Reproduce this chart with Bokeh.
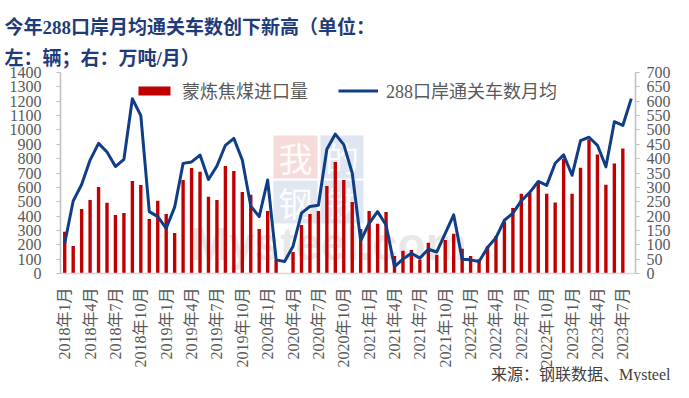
import math
from bokeh.plotting import figure
from bokeh.models import (Range1d, LinearAxis, FixedTicker, Legend, LegendItem,
                          Title, ColumnDataSource, BoxAnnotation, Label)
from bokeh.embed import file_html
from bokeh.resources import INLINE

NAN = float("nan")

# month labels 2018-01 .. 2023-08
months = [f"{y}年{m}月" for y in range(2018, 2024) for m in range(1, 13)][:68]

# Mongolian coking coal imports (万吨/月, right axis)
coal_import = [
    145, 96, 225, 256, 301, 246, 204, 211, 322, 308, 190, 253,
    207, 141, 326, 367, 354, 267, 256, 374, 357, 284, 274, 155,
    218, 48, NAN, 75, 169, 207, 218, 305, 388, 326, 249, 155,
    218, 173, 214, 61, 79, 82, 48, 107, 65, 117, 138, 86,
    61, 49, 95, 131, 180, 228, 278, 280, 313, 278, 247, 400,
    278, 368, 467, 414, 309, 383, 435, NAN,
]

# 288 port average monthly cleared vehicles (辆, left axis)
vehicles = [
    211, 505, 620, 790, 906, 846, 745, 795, 1217, 1100, 431, 396,
    315, 462, 767, 777, 825, 655, 749, 893, 941, 790, 470, 396,
    651, 95, 83, 190, 420, 467, 476, 865, 971, 898, 700, 228,
    350, 431, 338, 48, 100, 141, 107, 169, 150, 280, 408, 100,
    95, 83, 181, 250, 371, 420, 507, 565, 641, 614, 768, 826,
    684, 926, 949, 893, 743, 1057, 1031, 1218,
]

left_ticks = list(range(0, 1401, 100))
right_ticks = list(range(0, 701, 50))
label_idx = list(range(0, 67, 3))

src = ColumnDataSource(dict(x=list(range(len(months))), coal=coal_import, veh=vehicles))

p = figure(width=673, height=382, x_range=Range1d(-0.5, 67.5), y_range=Range1d(0, 1400),
           output_backend="svg", toolbar_location=None,
           min_border_left=60, min_border_right=36, min_border_top=72, min_border_bottom=109)
p.extra_y_ranges = {"right": Range1d(0, 700)}
p.outline_line_color = None
p.xgrid.visible = False
p.ygrid.visible = False
p.background_fill_color = "white"
p.border_fill_color = "white"

# faint "我的钢铁 / Mysteel.com" watermark (decoration, screen units in the frame)
wm_boxes = [(213, 257, 95, 138, "#F3CFCF", "我"), (260, 303, 95, 138, "#D3DEEC", "的"),
            (213, 257, 50, 93, "#D8DFEA", "钢"), (260, 303, 50, 93, "#D3DEEC", "铁")]
for l, r, b, t, c, ch in wm_boxes:
    p.add_layout(BoxAnnotation(left=l, right=r, bottom=b, top=t, left_units="screen",
                               right_units="screen", bottom_units="screen", top_units="screen",
                               fill_color=c, fill_alpha=0.75, line_color=None, level="underlay"))
    p.add_layout(Label(x=(l + r) / 2, y=(b + t) / 2, x_units="screen", y_units="screen",
                       text=ch, text_align="center", text_baseline="middle",
                       text_font="Noto Sans CJK SC", text_font_size="34px",
                       text_color="white", text_alpha=0.9, level="underlay"))
p.add_layout(Label(x=268, y=30, x_units="screen", y_units="screen", text="Mysteel.com",
                   text_align="center", text_baseline="middle", text_font="Liberation Sans",
                   text_font_size="46px", text_font_style="bold",
                   text_color="#BEBEBE", text_alpha=0.35, level="underlay"))

bars = p.vbar(x="x", top="coal", width=0.4, source=src, y_range_name="right",
              fill_color="#C00000", line_color=None)
line = p.line(x="x", y="veh", source=src, line_width=3, line_color="#103E86",
              line_join="round")

AX_FONT = "Liberation Serif"
MIX_FONT = "Liberation Serif, Noto Sans CJK SC"

ya = p.yaxis[0]
ya.ticker = FixedTicker(ticks=left_ticks)
ya.axis_line_color = "#BFBFBF"
ya.axis_line_width = 1.5
ya.major_tick_line_color = "#BFBFBF"
ya.major_tick_out = 4
ya.major_tick_in = 0
ya.minor_tick_line_color = None
ya.major_label_standoff = 15
ya.major_label_text_font = AX_FONT
ya.major_label_text_font_size = "16px"
ya.major_label_text_color = "#595959"

ra = LinearAxis(y_range_name="right", ticker=FixedTicker(ticks=right_ticks))
ra.axis_line_color = "#BFBFBF"
ra.axis_line_width = 1.5
ra.major_tick_line_color = "#BFBFBF"
ra.major_tick_out = 4
ra.major_tick_in = 0
ra.minor_tick_line_color = None
ra.major_label_standoff = 7
ra.major_label_text_font = AX_FONT
ra.major_label_text_font_size = "16px"
ra.major_label_text_color = "#595959"
p.add_layout(ra, "right")

xa = p.xaxis[0]
xa.ticker = FixedTicker(ticks=label_idx)
xa.major_label_overrides = {i: months[i] for i in label_idx}
xa.major_label_orientation = math.pi / 2
xa.axis_line_color = "#D9D9D9"
xa.axis_line_width = 1.5
xa.major_tick_line_color = None
xa.minor_tick_line_color = None
xa.major_tick_out = 0
xa.major_label_standoff = 14
xa.major_label_text_font = MIX_FONT
xa.major_label_text_font_size = "16px"
xa.major_label_text_color = "#595959"

legend = Legend(items=[LegendItem(label="蒙炼焦煤进口量", renderers=[bars]),
                       LegendItem(label="288口岸通关车数月均", renderers=[line])],
                orientation="horizontal", location=(74, 170),
                padding=0, margin=0, spacing=30, label_standoff=8,
                glyph_width=40, glyph_height=11,
                border_line_color=None, background_fill_alpha=0,
                label_text_font=MIX_FONT, label_text_font_size="18px",
                label_text_color="#595959")
p.add_layout(legend)

TITLE_COLOR = "#1F3C7A"
t2 = Title(text="左：辆；右：万吨/月）", align="left", offset=-56, standoff=8,
           text_font=MIX_FONT, text_font_size="19px", text_font_style="bold",
           text_color=TITLE_COLOR)
t1 = Title(text="今年288口岸月均通关车数创下新高（单位：", align="left", offset=-56, standoff=8,
           text_font=MIX_FONT, text_font_size="19px", text_font_style="bold",
           text_color=TITLE_COLOR)
p.add_layout(t2, "above")
p.add_layout(t1, "above")

src_note = Title(text="来源：钢联数据、Mysteel", align="right", offset=-35, standoff=-14,
                 text_font=MIX_FONT, text_font_size="16px", text_font_style="normal",
                 text_color="#404040")
p.add_layout(src_note, "below")

open("out.html", "w").write(file_html(p, INLINE))
